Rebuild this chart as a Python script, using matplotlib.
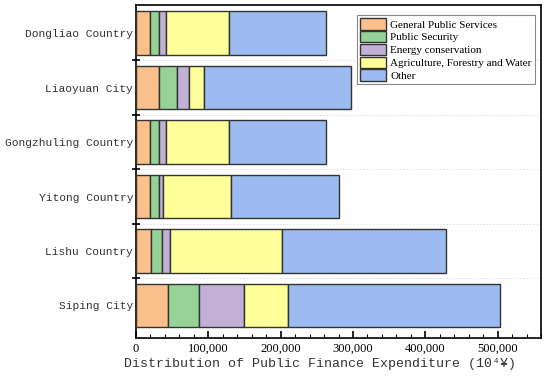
import numpy as np
import matplotlib.pyplot as plt
from matplotlib.ticker import MultipleLocator, FuncFormatter

# data (10^4 yuan)
regions = ['Siping City', 'Lishu Country', 'Yitong Country',
           'Gongzhuling Country', 'Liaoyuan City', 'Dongliao Country']
general = [45000, 21600, 19800, 19800, 31300, 19800]
security = [42000, 13900, 12500, 11500, 25500, 11500]
energy = [63000, 11500, 5000, 10200, 16100, 10200]
agri = [60000, 154700, 93600, 86800, 21300, 86800]
other = [293000, 226700, 149600, 133900, 202600, 133900]

names = ['General Public Services', 'Public Security', 'Energy conservation',
         'Agriculture, Forestry and Water', 'Other']
colors = ['#FBC08C', '#97D396', '#C2B0D6', '#FFFF99', '#9CBBF0']

fig = plt.figure(figsize=(5.5, 3.77), dpi=100)
ax = fig.add_axes([0.247, 0.103, 0.737, 0.884])

y = np.arange(len(regions))
left = np.zeros(len(regions))
for vals, name, c in zip([general, security, energy, agri, other], names, colors):
    ax.barh(y, vals, left=left, height=0.8, color=c, edgecolor='#333333',
            linewidth=1.0, label=name, zorder=3)
    left += np.array(vals)

ax.set_xlim(0, 560000)
ax.set_ylim(-0.6, 5.52)

ax.set_yticks(y)
ax.set_yticklabels(regions, family='Liberation Mono', fontsize=8.1, color='#333333')
ax.tick_params(axis='y', which='major', length=0, pad=2)
ax.set_yticks(y[:-1] + 0.5, minor=True)
ax.tick_params(axis='y', which='minor', direction='inout', length=6, width=1.2)
ax.grid(axis='y', which='minor', color='#dddddd', linestyle=(0, (2, 2)), linewidth=0.6)

ax.xaxis.set_major_locator(MultipleLocator(100000))
ax.xaxis.set_minor_locator(MultipleLocator(20000))
ax.xaxis.set_major_formatter(FuncFormatter(lambda v, p: f'{int(v):,}'))
ax.tick_params(axis='x', which='major', direction='in', length=5, width=1.2)
ax.tick_params(axis='x', which='minor', direction='in', length=3, width=0.8)
for lab in ax.get_xticklabels():
    lab.set_family('Liberation Serif')
    lab.set_fontsize(9)
ax.set_xlabel('Distribution of Public Finance Expenditure (10⁴¥)',
              family=['Liberation Mono', 'DejaVu Sans Mono'], fontsize=9.5,
              color='#333333', labelpad=3)
ax.xaxis.set_label_coords(0.455, -0.06)
ax.xaxis.label.set_va('top')

for s in ax.spines.values():
    s.set_linewidth(1.2)

leg = ax.legend(loc='upper right', bbox_to_anchor=(0.985, 0.97), borderaxespad=0,
                prop={'family': 'Liberation Serif', 'size': 8},
                handlelength=2.3, handleheight=1.2, labelspacing=0.12,
                handletextpad=0.4, borderpad=0.3, fancybox=False,
                edgecolor='#888888', framealpha=1)
leg.get_frame().set_linewidth(0.8)

fig.savefig('out.png')
